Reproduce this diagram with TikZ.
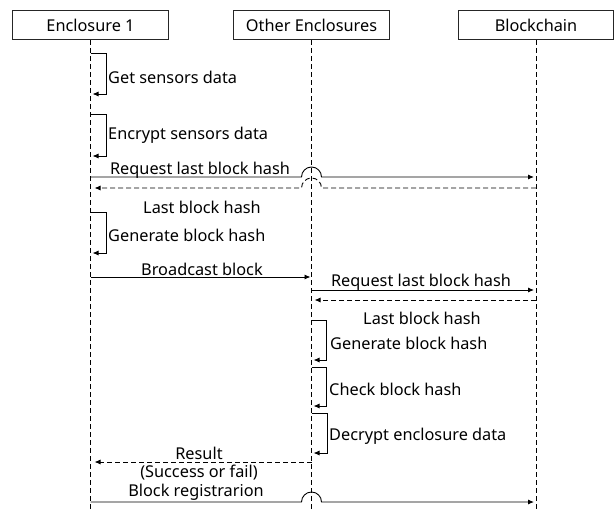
\documentclass[tikz,border=0pt]{standalone}
\usepackage{fontspec}
\setmainfont{Noto Sans}
\usetikzlibrary{arrows.meta}
\begin{document}
\begin{tikzpicture}[x=1pt,y=-1pt,
  actor/.style={draw=black!85,line width=1pt,minimum width=156pt,minimum height=29pt,inner sep=0pt,font=\fontsize{16.3}{18}\selectfont},
  lifeline/.style={line width=0.8pt,dash pattern=on 5pt off 3pt},
  msg/.style={line width=0.9pt,-{Latex[length=6pt,width=5pt]}},
  ret/.style={msg,dash pattern=on 5pt off 3pt},
  lbl/.style={font=\fontsize{16.3}{18}\selectfont,inner sep=0pt},
]
\useasboundingbox (0,0) rectangle (615,511);
\fill[white] (0,0) rectangle (615,511);
\node[actor] (E) at (90.5,25) {Enclosure 1};
\node[actor] (O) at (311.5,25) {Other Enclosures};
\node[actor,minimum width=155pt] (B) at (536,25) {Blockchain};
\coordinate (Ebot) at (E.south |- 0,511);
\coordinate (Obot) at (O.south |- 0,511);
\coordinate (Bbot) at (B.south |- 0,511);
\draw[lifeline] (E.south) -- (Ebot);
\draw[lifeline] (O.south) -- (Obot);
\draw[lifeline] (B.south) -- (Bbot);

% self loops on Enclosure 1
\draw[msg] (E.south |- 0,53) -- (106,53) -- (106,94) -- ([xshift=2pt]E.south |- 0,94);
\node[lbl,anchor=west] (l1) at (108,77) {Get sensors data};
\draw[msg] (E.south |- 0,114) -- (106,114) -- (106,156) -- ([xshift=2pt]E.south |- 0,156);
\node[lbl,anchor=west] (l2) at (108,135) {Encrypt sensors data};

% request last block hash 1
\draw[msg] (E.south |- 0,177) -- ([xshift=-10pt]O.south |- 0,177) arc[start angle=180,end angle=0,radius=10pt] -- ([xshift=-2pt]B.south |- 0,177);
\node[lbl] (l3) at (200,170) {Request last block hash};
\draw[ret] (B.south |- 0,188) -- ([xshift=10pt]O.south |- 0,188) arc[start angle=0,end angle=180,radius=10pt] -- ([xshift=4pt]E.south |- 0,188);
\node[lbl] (l4) at (202,207) {Last block hash};

\draw[msg] (E.south |- 0,212) -- (106,212) -- (106,253) -- ([xshift=2pt]E.south |- 0,253);
\node[lbl,anchor=west] (l5) at (108,235) {Generate block hash};

\draw[msg] (E.south |- 0,277) -- ([xshift=-1pt]O.south |- 0,277);
\node[lbl] (l6) at (202,269) {Broadcast block};

% other enclosures
\draw[msg] (O.south |- 0,290) -- ([xshift=-2pt]B.south |- 0,290);
\node[lbl] (l7) at (421,282) {Request last block hash};
\draw[ret] (B.south |- 0,300) -- ([xshift=3pt]O.south |- 0,300);
\node[lbl] (l8) at (422,318) {Last block hash};

\draw[msg] (O.south |- 0,320) -- (326,320) -- (326,360) -- ([xshift=2pt]O.south |- 0,360);
\node[lbl,anchor=west] (l9) at (330,343) {Generate block hash};
\draw[msg] (O.south |- 0,367) -- (326,367) -- (326,406) -- ([xshift=2pt]O.south |- 0,406);
\node[lbl,anchor=west] (l10) at (329,389) {Check block hash};
\draw[msg] (O.south |- 0,413) -- (327,413) -- (327,453) -- ([xshift=2pt]O.south |- 0,453);
\node[lbl,anchor=west] (l11) at (329,436) {Decrypt enclosure data};

\draw[ret] (O.south |- 0,462) -- ([xshift=4pt]E.south |- 0,462);
\node[lbl] (l12) at (199,453) {Result};
\node[lbl] (l13) at (199,473) {(Success or fail)};
\node[lbl] (l14) at (196,492) {Block registrarion};
\draw[msg] (E.south |- 0,502) -- ([xshift=-10pt]O.south |- 0,502) arc[start angle=180,end angle=0,radius=10pt] -- ([xshift=-2pt]B.south |- 0,502);
\end{tikzpicture}
\end{document}
